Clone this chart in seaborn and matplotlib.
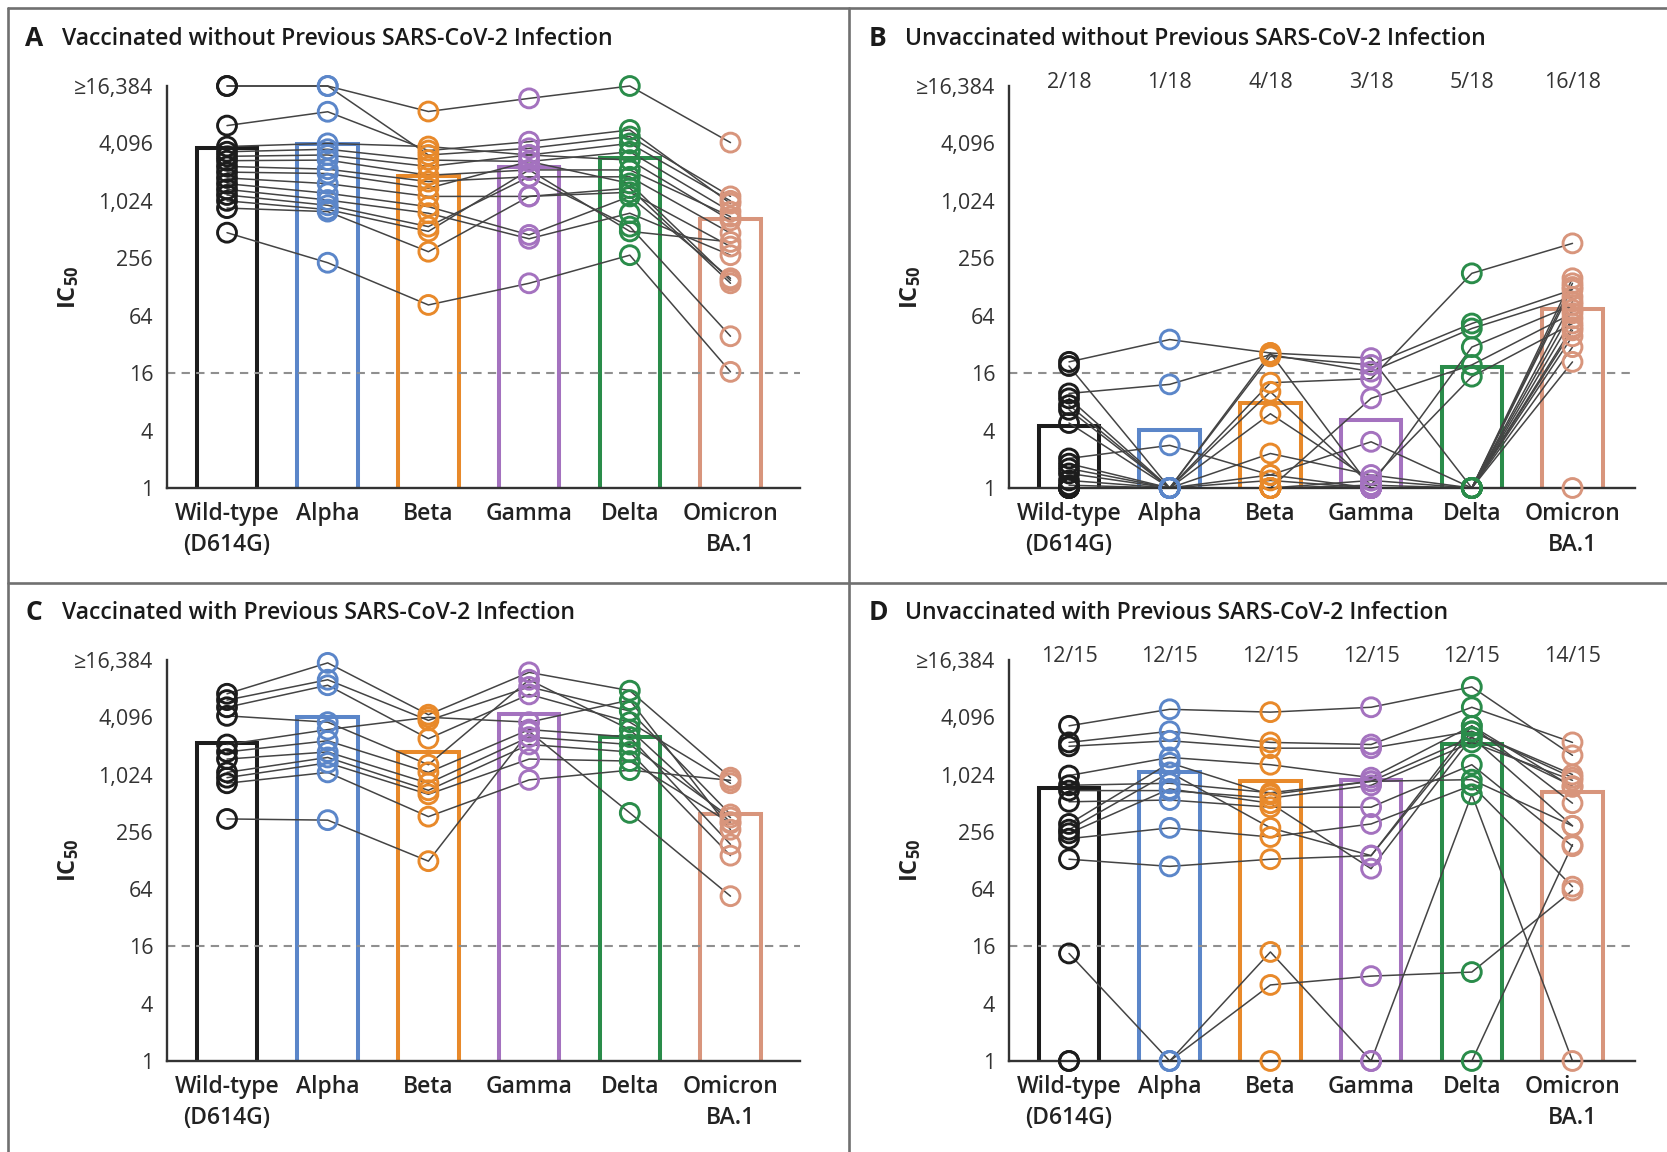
import numpy as np
import pandas as pd
import matplotlib
matplotlib.use("Agg")
import matplotlib.pyplot as plt
import matplotlib.transforms as mtransforms
from matplotlib.lines import Line2D
from matplotlib.ticker import NullLocator
from matplotlib import font_manager as fm
import seaborn as sns

# ---------------- data ----------------
variants = ["Wild-type", "Alpha", "Beta", "Gamma", "Delta", "Omicron"]
x_labels = ["Wild-type\n(D614G)", "Alpha", "Beta", "Gamma", "Delta", "Omicron\nBA.1"]
colors = ["#1c1c1c", "#5b86c9", "#e8892a", "#a472bf", "#2a8c4a", "#d8957c"]
y_ticks = [1, 4, 16, 64, 256, 1024, 4096, 16384]
y_tick_labels = ["1", "4", "16", "64", "256", "1,024", "4,096", "\u226516,384"]
threshold = 16

titles = ["Vaccinated without Previous SARS-CoV-2 Infection",
          "Unvaccinated without Previous SARS-CoV-2 Infection",
          "Vaccinated with Previous SARS-CoV-2 Infection",
          "Unvaccinated with Previous SARS-CoV-2 Infection"]
letters = ["A", "B", "C", "D"]

# Panel A (one entry per participant)
A_wild_type = [16384, 16384, 6300, 3800, 3350, 3000, 2700, 2350, 2050, 1780, 1550, 1350, 1180, 1024, 860, 475]
A_alpha     = [16384, 16384, 8800, 4100, 3560, 3100, 2740, 2200, 1980, 1550, 1230, 1045, 920, 830, 790, 230]
A_beta      = [8850, 3100, 3450, 3800, 2740, 2350, 1900, 1630, 1390, 1140, 890, 760, 550, 490, 300, 83]
A_gamma     = [12150, 3640, 4270, 3100, 2650, 3100, 2160, 1830, 2650, 1140, 450, 410, 1830, 2160, 1140, 140]
A_delta     = [16384, 4840, 5670, 4096, 3350, 2740, 2160, 1830, 1560, 1390, 1140, 760, 550, 490, 1260, 276]
A_omicron   = [4180, 1140, 960, 1024, 790, 640, 700, 470, 150, 140, 158, 276, 39, 380, 340, 16.5]
A_gmt       = [3700, 4040, 1870, 2300, 2900, 660]

# Panel B
B_wild_type = [21, 19, 9.8, 8.7, 7.4, 6.6, 4.8, 2.04, 1.8, 1.6, 1.42, 1.2, 1, 1, 1, 1, 1, 1.07]
B_alpha     = [36, 1, 12.2, 1, 1, 1, 1, 2.8, 1, 1, 1, 1, 1, 1, 1, 1, 1, 1]
B_beta      = [26, 24, 25, 12.7, 10.2, 1, 6, 1.37, 2.3, 26, 1.2, 1, 1, 1, 1, 1, 1, 1.37]
B_gamma     = [23, 19.5, 16.6, 14, 1.07, 8.7, 1.2, 3.05, 1.37, 1, 1, 1, 1.07, 1, 1, 1, 1.2, 1]
B_delta     = [1, 53, 47, 178, 30, 19.5, 14.7, 1, 1, 1, 1, 1, 1, 1, 1, 1, 1, 1]
B_omicron   = [140, 120, 101, 367, 83, 68, 53, 45, 39, 30, 21, 74, 158, 60, 48.5, 1, 90, 128]
B_gmt       = [4.5, 4.1, 7.7, 5.2, 18.6, 76]
B_counts    = ["2/18", "1/18", "4/18", "3/18", "5/18", "16/18"]

# Panel C
C_wild_type = [7230, 6210, 5220, 4240, 2120, 1770, 1490, 1080, 950, 830, 350]
C_alpha     = [15280, 10160, 8900, 3640, 3040, 2320, 1770, 1550, 1360, 1080, 340]
C_beta      = [4360, 3800, 2440, 1300, 4096, 1080, 830, 700, 635, 370, 126]
C_gamma     = [12150, 8540, 7130, 10160, 3640, 3040, 2540, 2120, 1490, 900, 2900]
C_delta     = [7800, 4770, 3640, 3040, 6210, 2540, 2120, 1770, 1420, 1140, 405]
C_omicron   = [950, 390, 830, 324, 270, 189, 362, 144, 315, 890, 54]
C_gmt       = [2180, 4150, 1750, 4480, 2540, 393]

# Panel D
D_wild_type = [3330, 2230, 2030, 1000, 790, 695, 530, 310, 270, 247, 217, 132, 13.5, 1, 1]
D_alpha     = [4970, 2920, 2320, 1550, 830, 695, 553, 1360, 1080, 724, 282, 111, 1, 1, 1]
D_beta      = [4640, 2230, 1940, 1300, 660, 580, 465, 630, 282, 512, 226, 132, 14, 6.3, 1]
D_gamma     = [5220, 2120, 1940, 950, 870, 790, 465, 870, 144, 105, 310, 144, 1, 7.8, 1]
D_delta     = [8540, 5220, 2920, 3330, 2540, 2230, 1300, 905, 2900, 2520, 790, 3330, 635, 8.6, 1]
D_omicron   = [1630, 2230, 950, 760, 296, 890, 181, 296, 1024, 776, 68, 512, 1, 62, 188]
D_gmt       = [740, 1080, 867, 904, 2165, 675]
D_counts    = ["12/15", "12/15", "12/15", "12/15", "12/15", "14/15"]

# ---------------- style ----------------
sns.set_theme(style="white")
avail = {f.name for f in fm.fontManager.ttflist}


def pick(*names):
    for n in names:
        if n in avail:
            return n
    return "DejaVu Sans"


SANS = pick("Open Sans", "Noto Sans", "Liberation Sans")
plt.rcParams["font.family"] = [SANS, "DejaVu Sans"]
plt.rcParams["mathtext.fontset"] = "custom"
plt.rcParams["mathtext.rm"] = SANS
plt.rcParams["mathtext.bf"] = SANS + ":bold"

W, H = 1667, 1152
fig = plt.figure(figsize=(W / 100, H / 100), dpi=100)
palette = dict(zip(variants, colors))


def fx(px):
    return px / W


def fy(py):
    return 1 - py / H


panels = [
    dict(vals=[A_wild_type, A_alpha, A_beta, A_gamma, A_delta, A_omicron], gmt=A_gmt, counts=None,
         left=167, right=800, top=86, bottom=488, title_y=39, letter_x=25, title_x=62),
    dict(vals=[B_wild_type, B_alpha, B_beta, B_gamma, B_delta, B_omicron], gmt=B_gmt, counts=B_counts,
         left=1009, right=1635, top=86, bottom=488, title_y=39, letter_x=869, title_x=905),
    dict(vals=[C_wild_type, C_alpha, C_beta, C_gamma, C_delta, C_omicron], gmt=C_gmt, counts=None,
         left=167, right=800, top=660, bottom=1061, title_y=613, letter_x=25, title_x=62),
    dict(vals=[D_wild_type, D_alpha, D_beta, D_gamma, D_delta, D_omicron], gmt=D_gmt, counts=D_counts,
         left=1009, right=1635, top=660, bottom=1061, title_y=613, letter_x=869, title_x=905),
]

SPACING = 100.7  # px between categories
FIRST_OFFSET = 60  # px from y-axis to first category

for k, p in enumerate(panels):
    ax = fig.add_axes([fx(p["left"]), fy(p["bottom"]), fx(p["right"] - p["left"]),
                       (p["bottom"] - p["top"]) / H])
    ax.set_yscale("log", base=2)

    rows = []
    for j, v in enumerate(variants):
        for i, val in enumerate(p["vals"][j]):
            rows.append(dict(subject=i, xi=j, variant=v, ic50=val))
    df = pd.DataFrame(rows)
    bars = pd.DataFrame(dict(variant=variants, gmt=p["gmt"]))

    sns.barplot(data=bars, x="variant", y="gmt", hue="variant", order=variants,
                hue_order=variants, palette=palette, fill=False, width=0.6,
                linewidth=2.9, errorbar=None, legend=False, ax=ax)
    ax.axhline(threshold, color="#8f8f8f", lw=1.5, ls=(0, (4, 3)), zorder=1.5)
    sns.lineplot(data=df, x="xi", y="ic50", units="subject", estimator=None,
                 color="#444444", linewidth=1.1, ax=ax, zorder=2, legend=False)
    for ln in ax.lines:
        ln.set_clip_on(False)
    sns.scatterplot(data=df, x="xi", y="ic50", hue="variant", hue_order=variants,
                    palette=palette, s=185, linewidth=2.1, ax=ax, zorder=3, legend=False)
    coll = ax.collections[-1]
    fcs = coll.get_facecolors()
    coll.set_edgecolors(fcs)
    coll.set_facecolors("none")
    coll.set_clip_on(False)

    x0 = -FIRST_OFFSET / SPACING
    x1 = x0 + (p["right"] - p["left"]) / SPACING
    ax.set_xlim(x0, x1)
    ax.set_ylim(1, 16384)
    ax.set_yticks(y_ticks)
    ax.set_yticklabels(y_tick_labels)
    ax.yaxis.set_minor_locator(NullLocator())
    ax.set_xticks(range(len(variants)))
    ax.set_xticklabels(x_labels, fontsize=16.5, fontweight="semibold", color="#222222",
                       linespacing=1.4)
    ax.tick_params(axis="x", length=0, pad=10)
    ax.tick_params(axis="y", length=8, width=1.3, color="#333333", labelsize=15.5,
                   labelcolor="#333333", pad=2)
    ax.set_xlabel("")
    ax.set_ylabel(r"$\mathbf{IC_{50}}$", fontsize=17, color="#222222")
    ax.yaxis.set_label_coords(-86 / (p["right"] - p["left"]), 0.5)
    for s in ["top", "right"]:
        ax.spines[s].set_visible(False)
    for s in ["left", "bottom"]:
        ax.spines[s].set_color("#333333")
        ax.spines[s].set_linewidth(1.7)
    ax.set_facecolor("none")

    # panel letter and title
    fig.text(fx(p["letter_x"]), fy(p["title_y"]), letters[k], fontsize=19,
             fontweight="bold", va="center", ha="left", color="#1a1a1a")
    fig.text(fx(p["title_x"]), fy(p["title_y"]), titles[k], fontsize=16.6,
             fontweight="semibold", va="center", ha="left", color="#1a1a1a")

    if p["counts"] is not None:
        tr = mtransforms.blended_transform_factory(ax.transData, fig.transFigure)
        for j, c in enumerate(p["counts"]):
            ax.text(j, fy(p["top"] - 4), c, transform=tr, ha="center", va="center",
                    fontsize=15.5, color="#333333")

# frame lines
frame_kw = dict(transform=fig.transFigure, color="#707070", lw=1.9)
fig.add_artist(Line2D([fx(8), 1], [fy(8), fy(8)], **frame_kw))
fig.add_artist(Line2D([fx(8), fx(8)], [0, fy(8)], **frame_kw))
fig.add_artist(Line2D([fx(849), fx(849)], [0, fy(8)], **frame_kw))
fig.add_artist(Line2D([fx(8), 1], [fy(583), fy(583)], **frame_kw))

fig.savefig("out.png", dpi=100)
